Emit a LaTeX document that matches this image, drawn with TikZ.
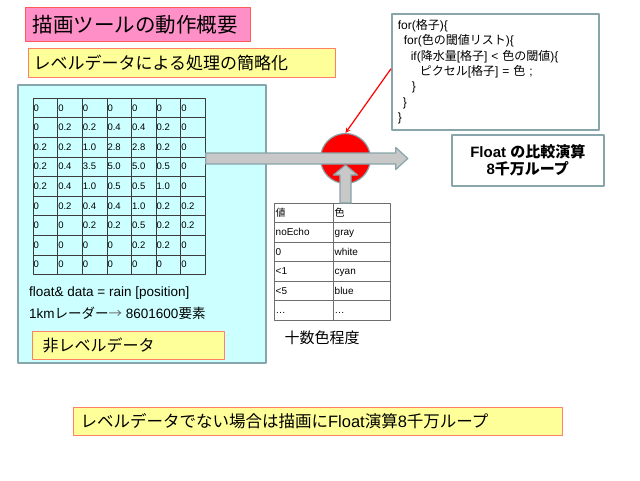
\documentclass[tikz,border=0pt]{standalone}
\usepackage{fontspec}
\setmainfont{Liberation Sans}
\newfontfamily\jp{Noto Sans CJK JP}
\definecolor{pinkbg}{RGB}{255,143,199}
\definecolor{pinkline}{RGB}{255,90,90}
\definecolor{yellowbg}{RGB}{255,255,153}
\definecolor{yellowline}{RGB}{255,128,100}
\definecolor{cyanbg}{RGB}{204,255,255}
\definecolor{frameline}{RGB}{135,165,170}
\definecolor{arrowgray}{RGB}{200,200,200}
\definecolor{gridline}{RGB}{60,60,60}
\definecolor{tableline}{RGB}{110,110,110}
\begin{document}
\begin{tikzpicture}[x=1pt, y=-1pt, line join=round, >=stealth,
  tag/.style={line width=1.2pt, anchor=north west, align=left, inner ysep=0pt},
  frame/.style={draw=frameline, line width=1.5pt, anchor=north west},
  cell/.style={anchor=west, inner sep=0.5pt, font=\fontsize{9.5}{10}\selectfont},
  entry/.style={anchor=base west, inner sep=0pt, font=\fontsize{10}{11}\selectfont},
  blockarrow/.style={draw=frameline, fill=arrowgray, line width=1.2pt}]
  \def\cw{24.6}
  \def\ch{19.6}
  \def\rh{19.5}
  \useasboundingbox (0,0) rectangle (640,480);
  \node (title) [tag, draw=pinkline, fill=pinkbg, text width=211pt, inner xsep=7pt, minimum height=34pt, font=\jp\fontsize{20.5}{24}\selectfont] at (25,7) {描画ツールの動作概要};
  \node (sub) [tag, draw=yellowline, fill=yellowbg, text width=297pt, inner xsep=5pt, minimum height=29pt, font=\jp\fontsize{17}{20}\selectfont] at (28,48) {レベルデータによる処理の簡略化};
  \node (panel) [frame, fill=cyanbg, minimum width=248pt, minimum height=278pt] at (17,84) {};
  \node (grid) [draw=gridline, line width=0.6pt, anchor=north west, minimum width=172.2pt, minimum height=176.4pt, inner sep=0pt] at (33,98) {};
  \foreach \i in {1,...,6}
    \draw[gridline, line width=0.6pt] ({33+\i*\cw},98) -- ++(0,176.4);
  \foreach \j in {1,...,8}
    \draw[gridline, line width=0.6pt] (33,{98+\j*\ch}) -- ++(172.2,0);
  \foreach \vals [count=\r] in {{0,0,0,0,0,0,0},{0,0.2,0.2,0.4,0.4,0.2,0},{0.2,0.2,1.0,2.8,2.8,0.2,0},{0.2,0.4,3.5,5.0,5.0,0.5,0},{0.2,0.4,1.0,0.5,0.5,1.0,0},{0,0.2,0.4,0.4,1.0,0.2,0.2},{0,0,0.2,0.2,0.5,0.2,0.2},{0,0,0,0,0.2,0.2,0},{0,0,0,0,0,0,0}}
    \foreach \v [count=\c] in \vals
      \node (c\r-\c) [cell] at ({33+(\c-1)*\cw},{98+(\r-0.5)*\ch}) {\v};
  \node (decl) [anchor=west, inner sep=0pt, font=\fontsize{13.5}{16}\selectfont] at (29,293) {float\& data = rain [position]};
  \node (size) [anchor=west, inner sep=0pt, font=\fontsize{13.5}{16}\selectfont] at (29,313) {1km{\jp レーダー}{\jp\color{gray!80!black}→} 8601600{\jp 要素}};
  \node (nonlevel) [tag, draw=yellowline, fill=yellowbg, text width=172pt, inner xsep=10pt, minimum height=28pt, font=\jp\fontsize{16}{19}\selectfont] at (32,331) {非レベルデータ};
  \node (dot) [circle, draw=frameline, fill=red, line width=1.2pt, minimum size=50pt, inner sep=0pt] at (345.5,158.5) {};
  \node (tbl) [draw=tableline, line width=0.6pt, anchor=north west, minimum width=116pt, minimum height=117pt, inner sep=0pt] at (274,203) {};
  \draw[tableline, line width=0.6pt] (333,203) -- ++(0,117);
  \foreach \k in {1,...,5}
    \draw[tableline, line width=0.6pt] (274,{203+\k*\rh}) -- ++(116,0);
  \foreach \a/\b [count=\k] in {{\jp 値}/{\jp 色},noEcho/gray,0/white,<1/cyan,<5/blue,\dots/\dots} {
    \node (val\k) [entry] at (275.5,{203+(\k-0.5)*\rh+3.6}) {\a};
    \node (col\k) [entry] at (334.5,{203+(\k-0.5)*\rh+3.6}) {\b};
  }
  \node (count) [inner sep=0pt, font=\jp\fontsize{15}{18}\selectfont] at (322,338) {十数色程度};
  \coordinate (hstart) at (grid.east |- dot);
  \draw[blockarrow] (hstart) ++(0,-5.5) -- ++(190,0) -- ++(0,-5.5) -- ++(12,11) -- ++(-12,11) -- ++(0,-5.5) -- ++(-190,0) -- cycle;
  \coordinate (vstart) at (dot |- tbl.north);
  \draw[blockarrow] (vstart) ++(-5.5,0) -- ++(0,-28) -- ++(-6.5,0) -- ++(12,-10) -- ++(12,10) -- ++(-6.5,0) -- ++(0,28) -- cycle;
  \node (code) [frame, fill=white, text width=195pt, inner xsep=6pt, inner ysep=0pt, minimum height=116pt, align=left, font=\fontsize{12}{15.3}\selectfont] at (391,13) {for({\jp 格子})\{\\
\hspace*{6pt}for({\jp 色の閾値リスト})\{\\
\hspace*{13pt}if({\jp 降水量}[{\jp 格子}] < {\jp 色の閾値})\{\\
\hspace*{22pt}{\jp ピクセル}[{\jp 格子}] = {\jp 色} ;\\
\hspace*{14pt}\}\\
\hspace*{5pt}\}\\
\}};
  \node (cmp) [frame, fill=white, minimum width=152pt, minimum height=51pt, align=center, font=\bfseries\fontsize{15}{17}\selectfont] at (451,134) {Float {\jp の比較演算}\\8{\jp 千万ループ}};
  \draw[red, line width=1.2pt, ->] ([yshift=3pt]code.west) -- (dot.north);
  \node (summary) [tag, draw=yellowline, fill=yellowbg, text width=475pt, inner xsep=7pt, minimum height=28pt, font=\fontsize{16.5}{19}\selectfont] at (73,407) {{\jp レベルデータでない場合は描画に}Float{\jp 演算}8{\jp 千万ループ}};
\end{tikzpicture}
\end{document}
